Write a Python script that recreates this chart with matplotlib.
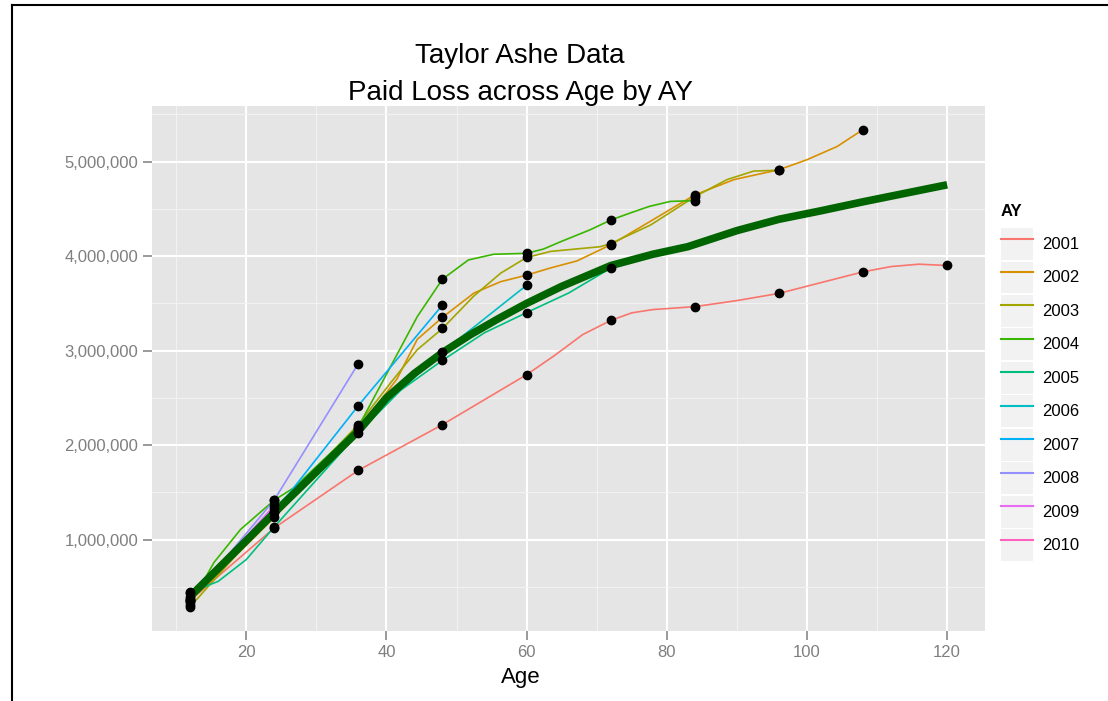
import matplotlib
matplotlib.use("Agg")
import matplotlib.pyplot as plt
from matplotlib.lines import Line2D
from matplotlib.patches import Patch
from matplotlib.legend_handler import HandlerTuple
from matplotlib.ticker import FuncFormatter, MultipleLocator

plt.rcParams['font.family'] = ['Liberation Sans', 'DejaVu Sans']

# Taylor Ashe cumulative paid losses (observed points)
years = [2001, 2002, 2003, 2004, 2005, 2006, 2007, 2008, 2009, 2010]
colors = ['#F8766D', '#D89000', '#A3A500', '#39B600', '#00BF7D',
          '#00BFC4', '#00B0F6', '#9590FF', '#E76BF3', '#FF62BC']

paid_2001 = [357848, 1124788, 1735330, 2218270, 2745596, 3319994, 3466336, 3606286, 3833515, 3901463]
paid_2002 = [352118, 1236139, 2170033, 3353322, 3799067, 4120063, 4647867, 4914039, 5339085]
paid_2003 = [290507, 1292306, 2218525, 3235179, 3985995, 4132918, 4628910, 4909315]
paid_2004 = [310608, 1418858, 2195047, 3757447, 4029929, 4381982, 4588268]
paid_2005 = [443160, 1136350, 2128333, 2897821, 3402672, 3873311]
paid_2006 = [396132, 1333217, 2180715, 2985752, 3691712]
paid_2007 = [440832, 1288463, 2419861, 3483130]
paid_2008 = [359480, 1421128, 2864498]
paid_2009 = [376686, 1363294]
paid_2010 = [344014]
paid = [paid_2001, paid_2002, paid_2003, paid_2004, paid_2005,
        paid_2006, paid_2007, paid_2008, paid_2009, paid_2010]
ages = [12, 24, 36, 48, 60, 72, 84, 96, 108, 120]

# smoothed curves per AY (age, value in millions)
curve_age_2001 = [12, 24, 36, 48, 60, 64, 68, 72, 75, 78, 80, 84, 90, 96, 102, 108, 112, 116, 120]
curve_val_2001 = [0.358, 1.125, 1.735, 2.218, 2.746, 2.95, 3.17, 3.32, 3.40, 3.435, 3.445, 3.466,
                  3.53, 3.606, 3.72, 3.834, 3.89, 3.915, 3.901]
curve_age_2002 = [12, 24, 36, 41.5, 44.4, 48, 52.5, 56.3, 60, 63.4, 67.2, 72, 84, 89.6, 96, 100, 104.3, 108]
curve_val_2002 = [0.352, 1.236, 2.170, 2.70, 3.12, 3.353, 3.61, 3.73, 3.799, 3.875, 3.95, 4.120,
                  4.648, 4.81, 4.914, 5.02, 5.16, 5.339]
curve_age_2003 = [12, 24, 36, 40.6, 44.4, 48, 52.5, 56.3, 60, 63.4, 70.5, 72, 77.7, 84, 88.6, 92.4, 96]
curve_val_2003 = [0.291, 1.292, 2.219, 2.66, 3.01, 3.235, 3.58, 3.82, 3.986, 4.05, 4.10, 4.133,
                  4.33, 4.629, 4.81, 4.90, 4.909]
curve_age_2004 = [12, 15.4, 19.2, 24, 26.8, 36, 44.4, 48, 51.7, 55.3, 60, 62.4, 65, 69.1, 72,
                  74.8, 77.5, 80.5, 84]
curve_val_2004 = [0.311, 0.76, 1.11, 1.419, 1.55, 2.195, 3.36, 3.757, 3.96, 4.02, 4.030, 4.075,
                  4.157, 4.28, 4.382, 4.457, 4.526, 4.579, 4.588]
curve_age_2005 = [12, 16, 20, 24, 36, 42, 48, 54, 60, 66, 72]
curve_val_2005 = [0.443, 0.56, 0.79, 1.136, 2.128, 2.58, 2.898, 3.19, 3.403, 3.61, 3.873]
curve_age_2006 = [12, 24, 36, 48, 60]
curve_val_2006 = [0.396, 1.333, 2.181, 2.986, 3.692]
curve_age_2007 = [12, 24, 36, 48]
curve_val_2007 = [0.441, 1.288, 2.420, 3.483]
curve_age_2008 = [12, 24, 36]
curve_val_2008 = [0.359, 1.421, 2.864]
curve_age_2009 = [12, 24]
curve_val_2009 = [0.377, 1.363]
curve_ages = [curve_age_2001, curve_age_2002, curve_age_2003, curve_age_2004, curve_age_2005,
              curve_age_2006, curve_age_2007, curve_age_2008, curve_age_2009]
curve_vals = [curve_val_2001, curve_val_2002, curve_val_2003, curve_val_2004, curve_val_2005,
              curve_val_2006, curve_val_2007, curve_val_2008, curve_val_2009]

# overall smooth (thick dark green)
all_age = [12, 24, 36, 40, 44, 48, 52, 56, 60, 65, 72, 78, 83, 90, 96, 102, 108, 114, 120]
all_val = [0.40, 1.285, 2.15, 2.50, 2.76, 2.98, 3.17, 3.34, 3.50, 3.68, 3.90, 4.02, 4.10,
           4.27, 4.39, 4.48, 4.575, 4.665, 4.755]

W, H = 1108, 701
fig = plt.figure(figsize=(W / 100, H / 100), dpi=100)
ax = fig.add_axes([152.3 / W, 1 - 630.7 / H, (985 - 152.3) / W, (630.7 - 105.7) / H])
ax.set_facecolor('#E5E5E5')
for s in ax.spines.values():
    s.set_visible(False)

for yr, c, ca, cv in zip(years, colors, curve_ages, curve_vals):
    ax.plot(ca, [v * 1e6 for v in cv], color=c, lw=1.2, zorder=3, solid_capstyle='butt')

ax.plot(all_age, [v * 1e6 for v in all_val], color='#006400', lw=5.5, zorder=4,
        solid_capstyle='butt')

for p in paid:
    ax.plot(ages[:len(p)], p, 'o', color='black', markersize=6, zorder=5)

ax.set_xlim(6.6, 125.4)
ax.set_ylim(38078, 5591514)
ax.xaxis.set_major_locator(MultipleLocator(20))
ax.xaxis.set_minor_locator(MultipleLocator(10))
ax.set_yticks([1e6, 2e6, 3e6, 4e6, 5e6])
ax.yaxis.set_minor_locator(MultipleLocator(5e5))
ax.yaxis.set_major_formatter(FuncFormatter(lambda v, pos: f"{int(v):,}"))
ax.grid(which='major', color='white', lw=1.5)
ax.grid(which='minor', color='#F2F2F2', lw=0.8)
ax.set_axisbelow(True)
ax.tick_params(which='major', length=6.5, width=1.1, color='#7F7F7F',
               labelsize=12, labelcolor='#7F7F7F', pad=3.5)
ax.tick_params(which='minor', length=0)

handles = [(Patch(facecolor='#F2F2F2', edgecolor='none'), Line2D([], [], color=c, lw=1.5))
           for c in colors]
leg = fig.legend(handles, [str(y) for y in years], handler_map={tuple: HandlerTuple(ndivide=1)},
                 loc='upper left', bbox_to_anchor=(1001 / W, 1 - 204 / H),
                 bbox_transform=fig.transFigure, frameon=False, fontsize=12,
                 title='AY', title_fontproperties={'weight': 'bold', 'size': 12},
                 handlelength=1.9, handleheight=2.56, labelspacing=0.1, handletextpad=0.55,
                 borderpad=0, borderaxespad=0, alignment='left')
# more room between legend title and keys
leg._legend_box.sep = 6.5

fig.text(520 / W, 1 - 63 / H, 'Taylor Ashe Data', ha='center', va='baseline', fontsize=20)
fig.text(520 / W, 1 - 100 / H, 'Paid Loss across Age by AY', ha='center', va='baseline', fontsize=20)
fig.text(521 / W, 1 - 683 / H, 'Age', ha='center', va='baseline', fontsize=16)

# screenshot frame on left and top
fig.add_artist(Line2D([12 / W, 12 / W], [0, 1 - 5 / H], transform=fig.transFigure, color='black', lw=1.5))
fig.add_artist(Line2D([12 / W, 1], [1 - 5 / H, 1 - 5 / H], transform=fig.transFigure, color='black', lw=1.5))

fig.savefig('out.png', dpi=100)
